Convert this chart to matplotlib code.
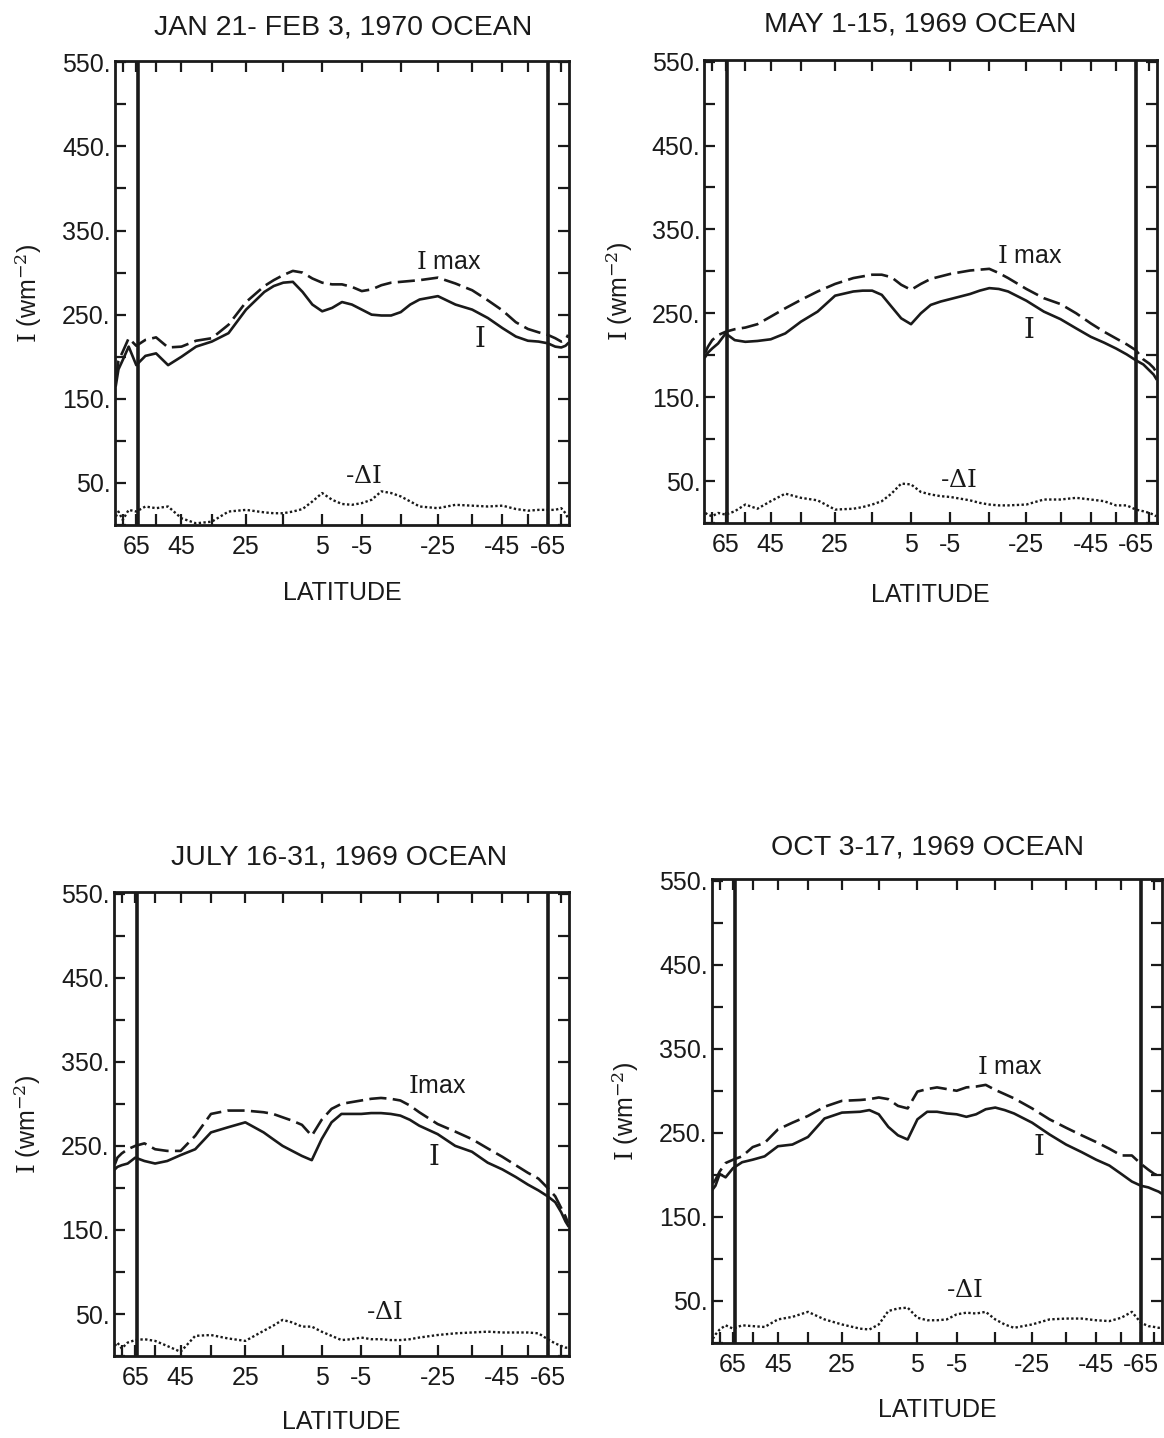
import numpy as np
import matplotlib
matplotlib.use("Agg")
import matplotlib.pyplot as plt

plt.rcParams['font.family'] = ['Liberation Sans', 'DejaVu Sans']
plt.rcParams['mathtext.fontset'] = 'dejavuserif'

# latitude grid (deg), finer through the tropics
lat = [85, 80, 75, 70, 65, 60, 55, 50, 45, 40, 35, 30, 25, 20, 17.5, 15, 12.5, 10,
       7.5, 5, 2.5, 0, -2.5, -5, -7.5, -10, -12.5, -15, -17.5, -20, -25, -30, -35,
       -40, -45, -50, -55, -60, -65, -70, -75, -80, -85]

# Jan 21 - Feb 3, 1970
jan_i = [166, 185, 196, 212, 190, 201, 204, 190, 200, 212, 218, 228, 256, 277, 284, 288,
         289, 277, 262, 254, 258, 265, 262, 256, 250, 249, 249, 253, 262, 268, 272, 262,
         256, 246, 234, 224, 219, 218, 216, 212, 211, 213, 216]
jan_imax = [175, 195, 206, 222, 213, 220, 223, 211, 212, 219, 222, 238, 265, 284, 291, 297,
            302, 300, 293, 288, 286, 286, 283, 278, 280, 285, 288, 289, 290, 291, 294, 287,
            279, 267, 255, 241, 233, 229, 226, 222, 218, 220, 226]
jan_di = [10, 16, 6, 18, 16, 22, 20, 22, 8, 2, 4, 16, 18, 15, 14, 14, 16, 19, 28, 38, 30,
          25, 24, 26, 30, 40, 38, 34, 28, 22, 20, 24, 23, 22, 23, 19, 17, 18, 18, 18, 20,
          14, 8]

# May 1-15, 1969
may_i = [198, 203, 208, 214, 226, 218, 216, 217, 219, 226, 240, 252, 271, 276, 277, 277,
         272, 258, 244, 237, 250, 260, 264, 267, 270, 273, 277, 280, 279, 276, 265, 252,
         243, 232, 222, 215, 208, 201, 194, 189, 182, 177, 172]
may_imax = [203, 210, 218, 224, 228, 231, 233, 237, 246, 256, 266, 276, 285, 292, 294, 296,
            296, 293, 284, 278, 285, 291, 294, 297, 299, 301, 302, 303, 298, 292, 279, 268,
            261, 250, 238, 228, 220, 213, 206, 195, 190, 185, 180]
may_di = [12, 10, 8, 12, 10, 14, 22, 17, 26, 35, 30, 27, 16, 17, 19, 22, 26, 35, 47, 46,
          37, 34, 32, 31, 29, 27, 24, 22, 21, 21, 22, 28, 28, 30, 28, 26, 21, 21, 16, 14,
          12, 10, 8]

# July 16-31, 1969
jul_i = [222, 225, 227, 229, 236, 232, 229, 232, 239, 246, 266, 272, 278, 266, 258, 250,
         244, 238, 233, 258, 278, 288, 288, 288, 289, 289, 288, 286, 281, 274, 264, 250,
         243, 230, 222, 213, 204, 197, 190, 183, 171, 160, 155]
jul_imax = [228, 236, 241, 246, 250, 253, 246, 244, 244, 262, 288, 292, 292, 290, 288, 284,
            280, 275, 262, 281, 294, 300, 302, 304, 306, 307, 306, 304, 298, 290, 276, 267,
            258, 247, 237, 227, 218, 211, 200, 190, 176, 166, 158]
jul_di = [12, 16, 9, 16, 19, 20, 18, 12, 5, 24, 25, 21, 18, 30, 36, 43, 40, 35, 35, 29,
          24, 19, 20, 22, 20, 20, 19, 19, 20, 22, 25, 27, 28, 29, 28, 28, 28, 27, 20, 15,
          12, 10, 10]

# Oct 3-17, 1969
oct_i = [183, 187, 201, 197, 208, 215, 218, 222, 234, 236, 245, 267, 274, 275, 277, 272,
         257, 247, 242, 266, 275, 275, 273, 272, 269, 272, 278, 280, 277, 273, 262, 248,
         236, 227, 218, 211, 201, 192, 187, 185, 182, 180, 178]
oct_imax = [190, 194, 204, 214, 218, 222, 233, 238, 254, 262, 270, 281, 288, 289, 290, 292,
            290, 282, 279, 299, 302, 304, 302, 300, 304, 305, 307, 301, 296, 291, 279, 266,
            256, 247, 239, 231, 223, 223, 213, 206, 201, 199, 197]
oct_di = [5, 10, 16, 21, 17, 21, 20, 19, 28, 31, 37, 28, 22, 17, 16, 22, 38, 41, 42, 30,
          27, 27, 28, 34, 36, 35, 37, 28, 22, 18, 22, 28, 29, 29, 27, 26, 30, 37, 24, 20,
          19, 18, 18]

titles = ["JAN 21- FEB 3, 1970 OCEAN", "MAY 1-15, 1969 OCEAN",
          "JULY 16-31, 1969 OCEAN", "OCT 3-17, 1969 OCEAN"]
imax_names = [r"$\mathrm{I}$ max", r"$\mathrm{I}$ max", r"$\mathrm{I}$max", r"$\mathrm{I}$ max"]
series = [(jan_i, jan_imax, jan_di), (may_i, may_imax, may_di),
          (jul_i, jul_imax, jul_di), (oct_i, oct_imax, oct_di)]

# boundaries of the averaging belt
belt = [64, -65]

yticks = list(range(0, 551, 50))
xticks = [75, 65, 55, 45, 35, 25, 15, 5, -5, -15, -25, -35, -45, -55, -65, -75]
xlabeled = [65, 45, 25, 5, -5, -25, -45, -65]

# axes rectangles and text placement for each panel
rects = [[0.0988, 0.6349, 0.3900, 0.3230],
         [0.6052, 0.6363, 0.3888, 0.3220],
         [0.0979, 0.0570, 0.3909, 0.3227],
         [0.6117, 0.0661, 0.3866, 0.3227]]
title_xy = [(0.502, 1.072), (0.476, 1.076), (0.494, 1.075), (0.480, 1.067)]
xlab_y = [-0.146, -0.155, -0.142, -0.144]
ylab_x = [-0.19, -0.187, -0.189, -0.193]
imax_xy = [(-28, 312), (-26, 318), (-25, 321), (-19, 328)]
i_xy = [(-37.5, 220), (-25.7, 229), (-24, 236), (-27, 232)]
di_xy = [(-5.5, 58), (-7, 51), (-11, 52), (-7, 63)]


def fwd(x):
    return np.sin(np.radians(x))


def inv(y):
    return np.degrees(np.arcsin(np.clip(y, -1, 1)))


ink = '#1a1a1a'
fig = plt.figure(figsize=(11.64, 14.38), dpi=100)

for k in range(4):
    ax = fig.add_axes(rects[k])
    ax.set_xscale('function', functions=(fwd, inv))
    i_vals, imax_vals, di_vals = series[k]

    ax.plot(lat, i_vals, color=ink, lw=1.9)
    ax.plot(lat, imax_vals, color=ink, lw=1.9, ls=(0, (6.5, 2.4)))
    ax.plot(lat, di_vals, color=ink, lw=1.7, ls=(0, (1, 1.0)))
    for b in belt:
        ax.axvline(b, color=ink, lw=2.6)

    ax.set_xlim(90, -90)
    ax.set_ylim(0, 552)

    ax.set_xticks(xticks)
    ax.set_xticklabels([str(t) if t in xlabeled else '' for t in xticks])
    ax.set_yticks(yticks)
    ax.set_yticklabels([f"{v}." if v % 100 == 50 else '' for v in yticks])
    ax.minorticks_off()
    ax.tick_params(axis='both', which='major', direction='in', length=8, width=1.6,
                   top=True, right=True, labelsize=18, colors=ink)
    ax.tick_params(axis='x', pad=7)
    ax.tick_params(axis='y', pad=3)
    for sp in ax.spines.values():
        sp.set_linewidth(2.0)
        sp.set_color(ink)

    ax.text(title_xy[k][0], title_xy[k][1], titles[k], transform=ax.transAxes,
            ha='center', va='center', fontsize=20.5, color=ink)
    ax.text(0.5, xlab_y[k], "LATITUDE", transform=ax.transAxes,
            ha='center', va='center', fontsize=18, color=ink)
    ax.text(ylab_x[k], 0.5, r"$\mathrm{I}$ (wm$^{\mathrm{-2}}$)", transform=ax.transAxes,
            rotation=90, ha='center', va='center', fontsize=18, color=ink)

    ax.text(imax_xy[k][0], imax_xy[k][1], imax_names[k], ha='center', va='center',
            fontsize=18, color=ink)
    ax.text(i_xy[k][0], i_xy[k][1], r"$\mathrm{I}$", ha='center', va='center',
            fontsize=20, color=ink)
    ax.text(di_xy[k][0], di_xy[k][1], r"-$\Delta\mathrm{I}$", ha='center', va='center',
            fontsize=18, color=ink)

fig.savefig("out.png", dpi=100, facecolor='white')
